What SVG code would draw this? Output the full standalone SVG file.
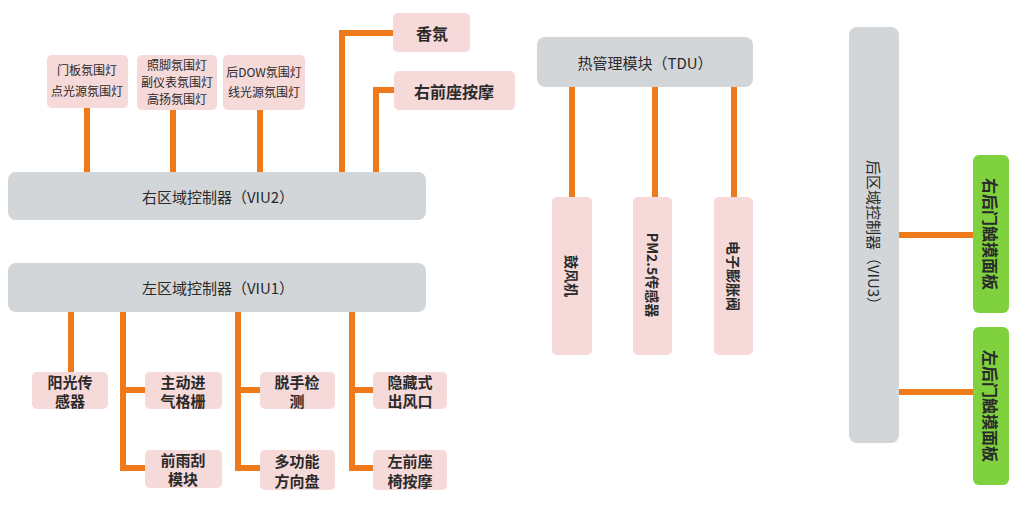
<svg xmlns="http://www.w3.org/2000/svg" width="1029" height="520" viewBox="0 0 1029 520">
<style>
.bar{fill:#D3D6D9}
.pk{fill:#F6D9D9}
.gr{fill:#7FD13D}
.ln{stroke:#EE7A1C;stroke-width:6;fill:none;stroke-linejoin:miter}
text{font-family:"Noto Sans CJK SC","Noto Sans",sans-serif;fill:#2a2a2a;text-anchor:middle;dominant-baseline:central}
.t15{font-size:15px}
.t12{font-size:12px}
.t16{font-size:16px;font-weight:bold}
.b15{font-size:15px;font-weight:bold}
.t14{font-size:14px;font-weight:bold}
</style>
<rect width="1029" height="520" fill="#ffffff"/>
<g id="connectors">
<path class="ln" d="M87 108V172M173 110V172M260 110V172"/>
<path class="ln" d="M342 172V33H393M376 172V90H394"/>
<path class="ln" d="M572 87V197M655 87V197M734 87V197"/>
<path class="ln" d="M899 235H973M899 392H973"/>
<path class="ln" d="M71 312V372"/>
<path class="ln" d="M123 312V468H145M123 390H145"/>
<path class="ln" d="M238 312V468H260M238 390H260"/>
<path class="ln" d="M352 312V468H373M352 390H373"/>
</g>
<g id="viu2"><rect class="bar" x="8" y="172" width="418" height="48" rx="8"/><text class="t15" x="218" y="196">右区域控制器（VIU2）</text></g>
<g id="viu1"><rect class="bar" x="8" y="263" width="418" height="49" rx="8"/><text class="t15" x="218" y="287">左区域控制器（VIU1）</text></g>
<g id="tdu"><rect class="bar" x="537" y="37" width="216" height="50" rx="8"/><text class="t15" x="645" y="62">热管理模块（TDU）</text></g>
<g id="viu3"><rect class="bar" x="849" y="27" width="50" height="416" rx="8"/><text class="t15" transform="translate(874,236) rotate(90)">后区域控制器（VIU3）</text></g>
<g id="n-menban"><rect class="pk" x="47" y="55" width="81" height="53" rx="5"/><text class="t12" x="87" y="69">门板氛围灯</text><text class="t12" x="87" y="90">点光源氛围灯</text></g>
<g id="n-zhaojiao"><rect class="pk" x="137" y="55" width="80" height="55" rx="5"/><text class="t12" x="177" y="64">照脚氛围灯</text><text class="t12" x="177" y="81">副仪表氛围灯</text><text class="t12" x="177" y="98">高扬氛围灯</text></g>
<g id="n-dow"><rect class="pk" x="223" y="55" width="82" height="55" rx="5"/><text class="t12" x="264" y="71">后DOW氛围灯</text><text class="t12" x="264" y="91">线光源氛围灯</text></g>
<g id="n-xiangfen"><rect class="pk" x="393" y="13" width="77" height="39" rx="5"/><text class="t16" x="432" y="33">香氛</text></g>
<g id="n-youqian"><rect class="pk" x="394" y="71" width="121" height="39" rx="5"/><text class="t16" x="454" y="91">右前座按摩</text></g>
<g id="n-gufeng"><rect class="pk" x="552" y="197" width="40" height="158" rx="5"/><text class="t14" transform="translate(572,276) rotate(90)">鼓风机</text></g>
<g id="n-pm25"><rect class="pk" x="633" y="197" width="39" height="158" rx="5"/><text class="t14" transform="translate(653,275) rotate(90)">PM2.5传感器</text></g>
<g id="n-dianzi"><rect class="pk" x="714" y="197" width="39" height="158" rx="5"/><text class="t14" transform="translate(734,276) rotate(90)">电子膨胀阀</text></g>
<g id="n-youhou"><rect class="gr" x="973" y="155" width="36" height="158" rx="6"/><text class="t16" transform="translate(991,234) rotate(90)">右后门触摸面板</text></g>
<g id="n-zuohou"><rect class="gr" x="973" y="327" width="36" height="158" rx="6"/><text class="t16" transform="translate(991,406) rotate(90)">左后门触摸面板</text></g>
<g id="n-yangguang"><rect class="pk" x="32" y="372" width="76" height="37" rx="5"/><text class="b15" x="70" y="381">阳光传</text><text class="b15" x="70" y="400">感器</text></g>
<g id="n-zhudong"><rect class="pk" x="145" y="372" width="77" height="37" rx="5"/><text class="b15" x="183" y="381">主动进</text><text class="b15" x="183" y="400">气格栅</text></g>
<g id="n-qianyu"><rect class="pk" x="145" y="450" width="77" height="38" rx="5"/><text class="b15" x="183" y="459">前雨刮</text><text class="b15" x="183" y="478">模块</text></g>
<g id="n-tuoshou"><rect class="pk" x="260" y="372" width="75" height="37" rx="5"/><text class="b15" x="297" y="381">脱手检</text><text class="b15" x="297" y="400">测</text></g>
<g id="n-duogongneng"><rect class="pk" x="260" y="450" width="75" height="40" rx="5"/><text class="b15" x="297" y="460">多功能</text><text class="b15" x="297" y="480">方向盘</text></g>
<g id="n-yincang"><rect class="pk" x="373" y="372" width="74" height="37" rx="5"/><text class="b15" x="410" y="381">隐藏式</text><text class="b15" x="410" y="400">出风口</text></g>
<g id="n-zuoqian"><rect class="pk" x="373" y="450" width="74" height="40" rx="5"/><text class="b15" x="410" y="460">左前座</text><text class="b15" x="410" y="480">椅按摩</text></g>
</svg>
